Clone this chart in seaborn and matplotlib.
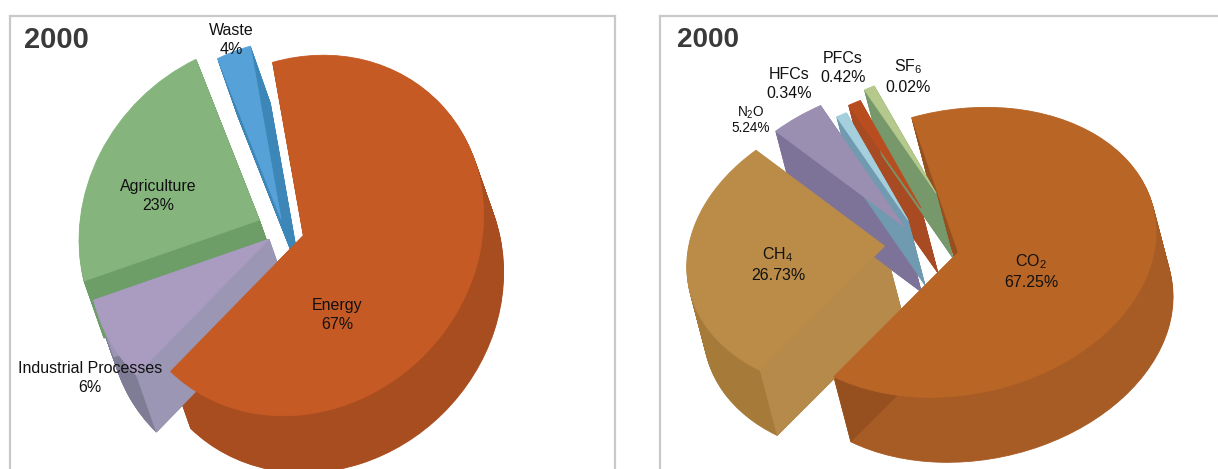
import numpy as np
import matplotlib
matplotlib.use("Agg")
import matplotlib.pyplot as plt
from matplotlib.patches import Polygon
from matplotlib.transforms import Affine2D
import seaborn as sns

# the 3D pies do not follow their printed numbers exactly, so the drawn
# shares are read off the picture and the printed labels are kept apart
sector_names = ["Waste", "Agriculture", "Industrial Processes", "Energy"]
sector_labels = ["4%", "23%", "6%", "67%"]
sector_shares = [3.0, 23.0, 8.1, 65.9]
sector_explode = [0.04, 0.18, 0.10, 0.09]
sector_nudge = [(-5, -6), (0, 0), (-3, -3), (0, 0)]
sector_turn = [0, 0, 0, 0]
sector_scale = [1, 1, 1, 1]
sector_top = ["#56a2d8", "#85b57d", "#a99cc0", "#c55a24"]
sector_rim = ["#3d86b8", "#6d9e68", "#7f7c95", "#a84d20"]
sector_face = ["#3d86b8", "#6d9e68", "#9a96b4", "#a84d20"]

gas_names = ["SF$_{6}$", "PFCs", "HFCs", "N$_{2}$O", "CH$_{4}$", "CO$_{2}$"]
gas_labels = ["0.02%", "0.42%", "0.34%", "5.24%", "26.73%", "67.25%"]
gas_shares = [1.0, 1.2, 1.0, 4.3, 27.9, 64.6]
gas_explode = [0, 0, 0, 0.22, 0.27, 0.115]
# the three thin slices run side by side in the picture, not from one centre
gas_nudge = [(3, -55), (-12, -40), (-25, -28), (-5, 3), (5, -8), (3, 3)]
gas_turn = [8, 4, 0, 0, 0, 0]
gas_scale = [0.85, 0.85, 0.85, 1, 1, 1]
gas_top = ["#b5c98c", "#b84e20", "#a5cfdc", "#9a8fb0", "#bb8c48", "#b86526"]
gas_rim = ["#76986a", "#a84a22", "#6f9ab0", "#7d7399", "#a67a38", "#a85c25"]
gas_face = ["#76986a", "#a84a22", "#6f9ab0", "#7d7399", "#b68a4a", "#96501f"]

year = "2000"


def draw_pie(ax, shares, explode, nudge, turn, scale, top, rim, face,
             start, center, a, b, tilt, depth):
    base = Affine2D().scale(a, b).rotate_deg(tilt).translate(center[0], -center[1])

    def layer(colors, dx, dy):
        wedges, _ = ax.pie(shares, explode=explode, colors=colors, startangle=start,
                           wedgeprops={"linewidth": 0.6})
        for w, n, t, s in zip(wedges, nudge, turn, scale):
            w.set_edgecolor(w.get_facecolor())
            w.set_theta1(w.theta1 + t)
            w.set_theta2(w.theta2 + t)
            w.set_radius(w.r * s)
            w.set_transform(base + Affine2D().translate(dx + n[0], -dy - n[1]) + ax.transData)
        return wedges

    steps = int(depth[1])
    for f in np.linspace(1, 0, steps, endpoint=False):
        wedges = layer(rim, depth[0] * f, depth[1] * f)

    # big slices first so the thin ones stay visible over their side walls
    for i in np.argsort(shares)[::-1]:
        w = wedges[i]
        for t in (w.theta1, w.theta2):
            ang = np.deg2rad(t)
            apex = np.array(w.center)
            tip = apex + w.r * np.array([np.cos(ang), np.sin(ang)])
            p0, p1 = base.transform([apex, tip]) + np.array([nudge[i][0], -nudge[i][1]])
            d = np.array([depth[0], -depth[1]])
            ax.add_patch(Polygon([p0, p1, p1 + d, p0 + d], closed=True,
                                 facecolor=face[i], edgecolor=face[i], linewidth=0.4, zorder=1.5))

    for w in layer(top, 0, 0):
        w.set_zorder(2)


def finish_panel(ax, left, right):
    ax.set_aspect("auto")
    ax.set_frame_on(True)
    ax.set_xlim(left, right)
    ax.set_ylim(-469, -16)
    ax.set_xticks([])
    ax.set_yticks([])
    sns.despine(ax=ax, top=False, right=right > 1200, left=False, bottom=True)
    for s in ax.spines.values():
        s.set_color("#c9c9c9")
        s.set_linewidth(1.6)


def label(ax, x, y, name, value, size=11.5, spacing=1.28):
    ax.text(x, -y, name + "\n" + value, ha="center", va="center", fontsize=size,
            color="#111111", linespacing=spacing, zorder=5, clip_on=False)


sns.set_theme(style="white")
plt.rcParams["font.family"] = ["Liberation Sans", "DejaVu Sans"]
plt.rcParams["mathtext.default"] = "regular"

fig = plt.figure(figsize=(12.18, 4.69), dpi=100)
W, H = 1218, 469

ax1 = fig.add_axes([10 / W, 0, 605 / W, (H - 16) / H])
draw_pie(ax1, sector_shares, sector_explode, sector_nudge, sector_turn, sector_scale,
         sector_top, sector_rim, sector_face, 58, (288, 232), 190, 170, 45, (20, 57))
finish_panel(ax1, 10, 615)
ax1.text(24, -40, year, fontsize=21, fontweight="bold", color="#3a3a3a", va="center", clip_on=False)
label(ax1, 231, 40, sector_names[0], sector_labels[0])
label(ax1, 158, 196, sector_names[1], sector_labels[1])
label(ax1, 90, 378, sector_names[2], sector_labels[2])
label(ax1, 337, 315, sector_names[3], sector_labels[3])

ax2 = fig.add_axes([660 / W, 0, 558 / W, (H - 16) / H])
draw_pie(ax2, gas_shares, gas_explode, gas_nudge, gas_turn, gas_scale,
         gas_top, gas_rim, gas_face, 95, (933, 248), 200, 142, 12, (17, 65))
finish_panel(ax2, 660, 1218)
ax2.text(677, -40, year, fontsize=20, fontweight="bold", color="#3a3a3a", va="center", clip_on=False)
label(ax2, 908, 76, gas_names[0], gas_labels[0])
label(ax2, 843, 68, gas_names[1], gas_labels[1])
label(ax2, 789, 84, gas_names[2], gas_labels[2])
label(ax2, 751, 120, gas_names[3], gas_labels[3], size=9.8, spacing=1.0)
label(ax2, 778, 264, gas_names[4], gas_labels[4])
label(ax2, 1031, 271, gas_names[5], gas_labels[5])

fig.savefig("out.png", dpi=100)
